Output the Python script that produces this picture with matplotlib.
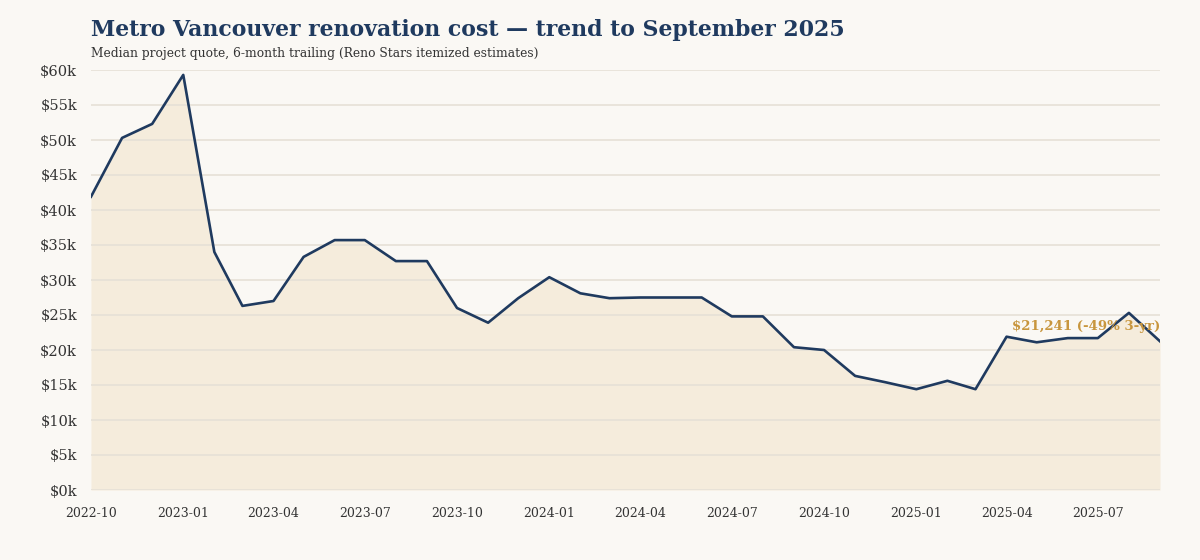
import numpy as np
import pandas as pd
import matplotlib
matplotlib.use("Agg")
import matplotlib.pyplot as plt
import matplotlib.dates as mdates
from matplotlib.ticker import FuncFormatter

# --- data ---
months = pd.date_range("2022-10-01", "2025-09-01", freq="MS")
median_quote = [
    41900, 50300, 52300, 59300, 34000, 26300, 27000, 33300, 35700, 35700,
    32700, 32700, 26000, 23900, 27400, 30400, 28100, 27400, 27500, 27500,
    27500, 24800, 24800, 20400, 20000, 16300, 15400, 14400, 15600, 14400,
    21900, 21100, 21700, 21700, 25300, 21241,
]
tick_months = pd.date_range("2022-10-01", "2025-07-01", freq="3MS")
title = "Metro Vancouver renovation cost \u2014 trend to September 2025"
subtitle = "Median project quote, 6-month trailing (Reno Stars itemized estimates)"

# --- style ---
bg = "#faf8f4"
navy = "#1f3a5f"
gold = "#c8963e"
fill = "#f5ecdc"
grid = "#e6e0d6"
serif = ["DejaVu Serif"]

fig = plt.figure(figsize=(12, 5.6), dpi=100, facecolor=bg)
ax = fig.add_axes([91 / 1200, 1 - 490 / 560, (1160 - 91) / 1200, 420 / 560])
ax.set_facecolor(bg)

ax.fill_between(months, median_quote, 0, color=fill, lw=0, zorder=1)
ax.plot(months, median_quote, color=navy, lw=1.9, zorder=3)

ax.set_xlim(months[0], months[-1])
ax.set_ylim(0, 60000)
ax.set_yticks(np.arange(0, 60001, 5000))
ax.yaxis.set_major_formatter(FuncFormatter(lambda v, p: f"${v / 1000:.0f}k"))
ax.set_xticks(tick_months)
ax.xaxis.set_major_formatter(mdates.DateFormatter("%Y-%m"))

ax.grid(axis="y", color=grid, lw=1.2, zorder=2)
ax.set_axisbelow(False)
for s in ax.spines.values():
    s.set_visible(False)
ax.tick_params(axis="both", length=0, colors="#333333")
ax.tick_params(axis="y", pad=10, labelsize=10.5)
ax.tick_params(axis="x", pad=12, labelsize=9)
for lbl in ax.get_xticklabels() + ax.get_yticklabels():
    lbl.set_fontfamily(serif)

last = median_quote[-1]
change = (last / median_quote[0] - 1) * 100
ax.annotate(f"${last:,} ({change:.0f}% 3-yr)", xy=(months[-1], last),
            xytext=(0, 11), textcoords="offset points", ha="right", va="center",
            color=gold, fontsize=9.5, fontweight="bold", family=serif, zorder=4)

fig.text(91 / 1200, 1 - 30 / 560, title, fontsize=15.8, fontweight="bold",
         color=navy, family=serif, va="center")
fig.text(91 / 1200, 1 - 53 / 560, subtitle, fontsize=8.8, color="#333333",
         family=serif, va="center")

fig.savefig("out.png", dpi=100, facecolor=bg)
